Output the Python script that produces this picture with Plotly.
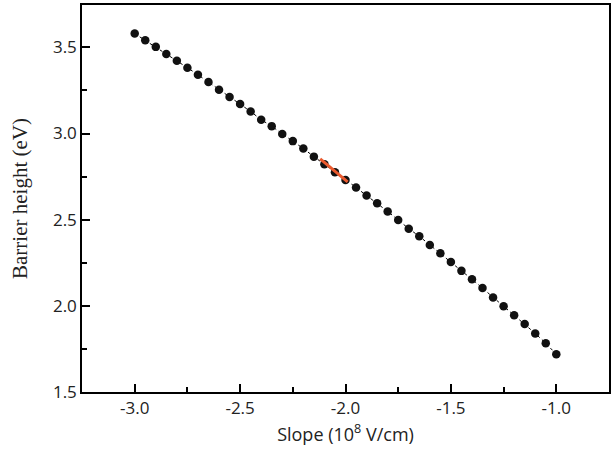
import plotly.graph_objects as go

slope = [-3.00, -2.95, -2.90, -2.85, -2.80, -2.75, -2.70, -2.65, -2.60, -2.55,
         -2.50, -2.45, -2.40, -2.35, -2.30, -2.25, -2.20, -2.15, -2.10, -2.05,
         -2.00, -1.95, -1.90, -1.85, -1.80, -1.75, -1.70, -1.65, -1.60, -1.55,
         -1.50, -1.45, -1.40, -1.35, -1.30, -1.25, -1.20, -1.15, -1.10, -1.05,
         -1.00]
barrier = [3.580, 3.541, 3.503, 3.462, 3.423, 3.382, 3.341, 3.299, 3.254, 3.212,
           3.171, 3.128, 3.080, 3.043, 2.998, 2.956, 2.913, 2.866, 2.822, 2.776,
           2.731, 2.687, 2.640, 2.595, 2.548, 2.498, 2.448, 2.404, 2.353, 2.305,
           2.254, 2.203, 2.155, 2.103, 2.049, 1.998, 1.946, 1.895, 1.840, 1.783,
           1.719]

# short red segment over the dots
red_x = [-2.12, -1.99]
red_y = [2.853, 2.719]

fig = go.Figure()
fig.add_trace(go.Scatter(x=slope, y=barrier, mode="lines+markers",
                         line=dict(color="black", width=1, dash="dot"),
                         marker=dict(color="#111111", size=8.5)))
fig.add_trace(go.Scatter(x=red_x, y=red_y, mode="lines",
                         line=dict(color="#ea5a2e", width=3)))

axis_common = dict(showline=True, linecolor="black", linewidth=1.5, mirror=True,
                   ticks="inside", ticklen=8, tickwidth=1.5, tickcolor="black",
                   showgrid=False, zeroline=False, automargin=False,
                   tickfont=dict(family="Open Sans", size=17, color="#222"),
                   minor=dict(ticks="inside", ticklen=5, tickwidth=1.5, tickcolor="black"))

fig.update_xaxes(range=[-3.25, -0.75], tickvals=[-3.0, -2.5, -2.0, -1.5, -1.0],
                 ticktext=["-3.0", "-2.5", "-2.0", "-1.5", "-1.0"],
                 title=dict(text="Slope (10<sup>8</sup> V/cm)", standoff=10,
                            font=dict(family="Open Sans", size=18, color="#222")),
                 **axis_common)
fig.update_xaxes(minor_tickvals=[-2.75, -2.25, -1.75, -1.25])
fig.update_yaxes(range=[1.5, 3.746], tickvals=[1.5, 2.0, 2.5, 3.0, 3.5],
                 ticktext=["1.5", "2.0", "2.5", "3.0", "3.5"],
                 title=dict(text="Barrier height (eV)", standoff=20,
                            font=dict(family="Liberation Serif", size=21, color="#222")),
                 **axis_common)
fig.update_yaxes(minor_tickvals=[1.75, 2.25, 2.75, 3.25])

fig.update_layout(width=612, height=458, showlegend=False,
                  plot_bgcolor="white", paper_bgcolor="white",
                  margin=dict(l=82, r=3, t=5, b=66))
fig.write_html("out.html", config={"displayModeBar": False},
               post_script="document.body.style.margin='0';")
